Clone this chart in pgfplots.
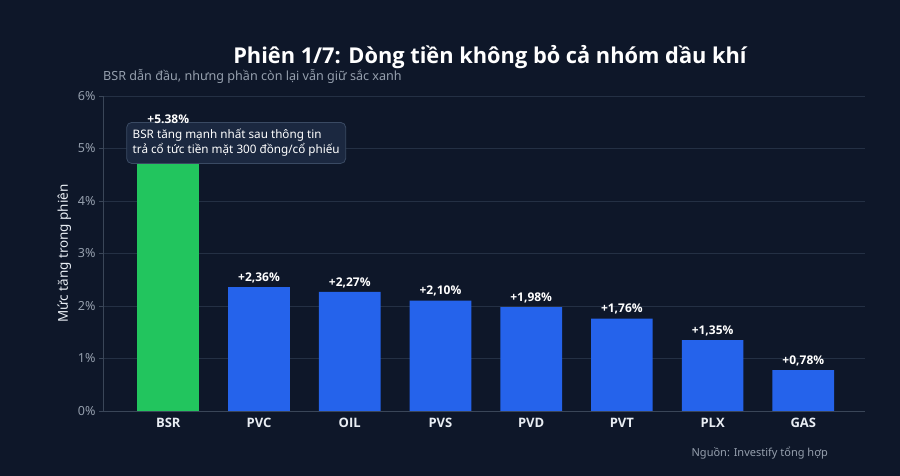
\documentclass[border=0pt]{standalone}
\usepackage{fontspec}
\setmainfont{Noto Sans}
\newfontfamily\headfont{Open Sans}
\usepackage{pgfplots}
\pgfplotsset{compat=1.18}
\definecolor{bg}{HTML}{0E1729}
\definecolor{gridc}{HTML}{243044}
\definecolor{axisc}{HTML}{3A4658}
\definecolor{tickc}{HTML}{959FAD}
\definecolor{greenbar}{HTML}{22C55E}
\definecolor{bluebar}{HTML}{2563EB}
\definecolor{boxfill}{HTML}{1B2840}
\definecolor{boxdraw}{HTML}{3A4A63}
\definecolor{lab}{HTML}{E8EDF3}
\begin{document}
\begin{tikzpicture}[x=1pt,y=1pt]
\fill[bg] (0,0) rectangle (900,476);
\begin{axis}[
  at={(103pt,65pt)}, anchor=south west,
  scale only axis, width=762pt, height=315pt,
  xmin=-0.72, xmax=7.68, ymin=0, ymax=6,
  axis x line*=bottom, axis y line*=left,
  axis line style={axisc, line width=0.8pt},
  xtick={0,...,7},
  xticklabels={BSR,PVC,OIL,PVS,PVD,PVT,PLX,GAS},
  x tick label style={font=\fontsize{13}{15}\selectfont\headfont\bfseries, text=lab},
  xtick style={draw=none},
  ytick={0,...,6},
  yticklabels={0\%,1\%,2\%,3\%,4\%,5\%,6\%},
  y tick label style={font=\fontsize{12.5}{14}\selectfont, text=tickc},
  ytick style={axisc}, tick align=outside, major tick length=4pt,
  ymajorgrids, grid style={gridc, line width=0.7pt},
  ylabel={Mức tăng trong phiên},
  ylabel style={font=\fontsize{13.5}{16}\selectfont, text=lab},
  /pgf/number format/assume math mode=true,
  ybar, bar width=0.68, bar shift=0pt,
  nodes near coords style={font=\fontsize{12}{14}\selectfont\headfont\bfseries, text=white, inner sep=4pt},
  clip=false,
]
\addplot[fill=greenbar, draw=none]
  coordinates {(0,5.38)};
\addplot[fill=bluebar, draw=none,
  nodes near coords={+\pgfmathprintnumber[fixed,fixed zerofill,precision=2,use comma,assume math mode=true]{\pgfplotspointmeta}\%}]
  coordinates {(1,2.36) (2,2.27) (3,2.10) (4,1.98) (5,1.76) (6,1.35) (7,0.78)};
\node[draw=boxdraw, fill=boxfill, rounded corners=5pt, line width=0.8pt,
  text=white, align=left, font=\fontsize{11.7}{15}\selectfont,
  inner xsep=6pt, inner ysep=4pt, minimum width=219pt, minimum height=41pt]
  at (rel axis cs:0.1748,0.851) {BSR tăng mạnh nhất sau thông tin\\trả cổ tức tiền mặt 300 đồng/cổ phiếu};
\addplot[fill=none, draw=none,
  nodes near coords={+\pgfmathprintnumber[fixed,fixed zerofill,precision=2,assume math mode=true]{\pgfplotspointmeta}\%},
  nodes near coords style={inner sep=5pt}]
  coordinates {(0,5.38)};
\end{axis}
\node[text=white, font=\fontsize{21.8}{26}\selectfont\headfont\bfseries] at (490,419) {Phiên 1/7: Dòng tiền không bỏ cả nhóm dầu khí};
\node[text=tickc, font=\fontsize{12.6}{15}\selectfont, anchor=west, inner sep=0pt] at (103,400) {BSR dẫn đầu, nhưng phần còn lại vẫn giữ sắc xanh};
\node[text=tickc, font=\fontsize{11}{13}\selectfont, anchor=east, inner sep=0pt] at (828,23) {Nguồn: Investify tổng hợp};
\end{tikzpicture}
\end{document}
